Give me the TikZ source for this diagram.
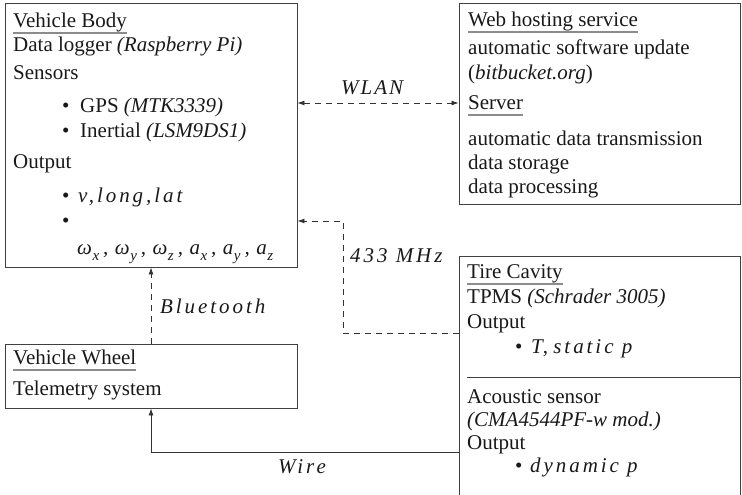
\documentclass[tikz,border=0pt]{standalone}
\usepackage{fontspec}
\setmainfont{Liberation Serif}
\newfontfamily\mvar{Liberation Serif}[LetterSpace=14]
\usetikzlibrary{arrows.meta}
% italic "math" variables with wide spacing and lowered subscripts
\newcommand\mv[1]{{\mvar\itshape #1}}
\newcommand\sbs[1]{\kern0.5pt\raisebox{-0.3em}{\fontsize{15}{15}\selectfont #1}\kern4pt}
\newcommand\cm{,\kern6.5pt}
\tikzset{
  box/.style={draw=black!75, line width=0.9pt, inner sep=0pt, fill=none},
  txt/.style={anchor=base west, inner sep=0pt, text=black!90,
              font=\fontsize{21}{24}\selectfont},
  uline/.style={draw=black!45, line width=1.3pt},
  sepline/.style={draw=black!75, line width=0.9pt},
  conn/.style={draw=black!80, line width=0.8pt,
               -{Latex[length=7pt,width=5pt]}},
  dconn/.style={conn, dash pattern=on 6pt off 5pt},
}
\begin{document}
\begin{tikzpicture}[x=1pt,y=-1pt]
\useasboundingbox (0,0) rectangle (742,495);

% ---- boxes
\node[box, minimum width=292pt, minimum height=264pt] (body)  at (151,135) {};
\node[box, minimum width=281pt, minimum height=201pt] (web)   at (599.5,103.5) {};
\node[box, minimum width=281pt, minimum height=264pt] (tire)  at (599.5,388) {};
\node[box, minimum width=292pt, minimum height=64pt]  (wheel) at (151,376) {};

% ---- vehicle body
\node[txt] (vb) at (13,28) {Vehicle Body};
\draw[uline] ([yshift=-5pt]vb.base west) -- ([yshift=-5pt]vb.base east);
\node[txt] (dl) at (13,52) {Data logger \textit{(Raspberry Pi)}};
\node[txt] (sen) at (13,80) {Sensors};
\node[txt] (b1) at (62,112) {•};
\node[txt] (gps) at (80,112) {GPS \textit{(MTK3339)}};
\node[txt] (b2) at (62,137) {•};
\node[txt] (ine) at (80,137) {Inertial \textit{(LSM9DS1)}};
\node[txt] (out1) at (13,168) {Output};
\node[txt] (b3) at (62,202) {•};
\node[txt] (vll) at (78,202) {\mv{v,long,lat}};
\node[txt] (b4) at (62,227) {•};
\node[txt] (om) at (77,254) {\mv{ω\sbs{x}\cm ω\sbs{y}\cm ω\sbs{z}\cm a\sbs{x}\cm a\sbs{y}\cm a\sbs{z}}};

% ---- web hosting / server
\node[txt] (wh) at (468,27) {Web hosting service};
\draw[uline] ([yshift=-5pt]wh.base west) -- ([yshift=-5pt]wh.base east);
\node[txt] (asu) at (468,55) {automatic software update};
\node[txt] (bb) at (468,80) {(\textit{bitbucket.org})};
\node[txt] (srv) at (468,110) {Server};
\draw[uline] ([yshift=-5pt]srv.base west) -- ([yshift=-5pt]srv.base east);
\node[txt] (adt) at (468,145) {automatic data transmission};
\node[txt] (dst) at (468,169) {data storage};
\node[txt] (dpr) at (468,193) {data processing};

% ---- tire cavity
\node[txt] (tc) at (467,278) {Tire Cavity};
\draw[uline] ([yshift=-6pt]tc.base west) -- ([yshift=-6pt]tc.base east);
\node[txt] (tpms) at (467,303) {TPMS \textit{(Schrader 3005)}};
\node[txt] (out2) at (467,328) {Output};
\node[txt] (b5) at (515,353) {•};
\node[txt] (tsp) at (531,353) {\mv{T}, \mv{static p}};
\coordinate (sepL) at (467,377);
\draw[sepline] (sepL) -- (sepL -| tire.east);
\node[txt] (acs) at (467,403) {Acoustic sensor};
\node[txt] (cma) at (467,426) {\textit{(CMA4544PF-w mod.)}};
\node[txt] (out3) at (467,449) {Output};
\node[txt] (b6) at (515,472) {•};
\node[txt] (dyn) at (530,472) {\mv{dynamic p}};

% ---- vehicle wheel
\node[txt] (vw) at (13,364) {Vehicle Wheel};
\draw[uline] ([yshift=-6pt]vw.base west) -- ([yshift=-6pt]vw.base east);
\node[txt] (tel) at (13,395) {Telemetry system};

% ---- connections
\coordinate (wlanY) at (0,103);
\draw[dconn, {Latex[length=7pt,width=5pt]}-{Latex[length=7pt,width=5pt]}]
  (body.east |- wlanY) -- (web.west |- wlanY);
\node[txt] (wlan) at (341,95) {\mv{W}\kern2pt\mv{L}\kern2pt\mv{A}\kern2pt\mv{N}};

\coordinate (rfA) at (343,333);
\coordinate (rfB) at (343,221);
\draw[dconn] (tire.west |- rfA) -- (rfA) -- (rfB) -- (body.east |- rfB);
\node[txt] (mhz) at (350,262) {\mv{433 MHz}};

\draw[dconn] (wheel.north) -- (body.south);
\node[txt] (bt) at (160,313) {\mv{Bluetooth}};

\coordinate (wireY) at (0,452);
\draw[conn] (tire.west |- wireY) -| (wheel.south);
\node[txt] (wire) at (278,473) {\mv{Wire}};
\end{tikzpicture}
\end{document}
